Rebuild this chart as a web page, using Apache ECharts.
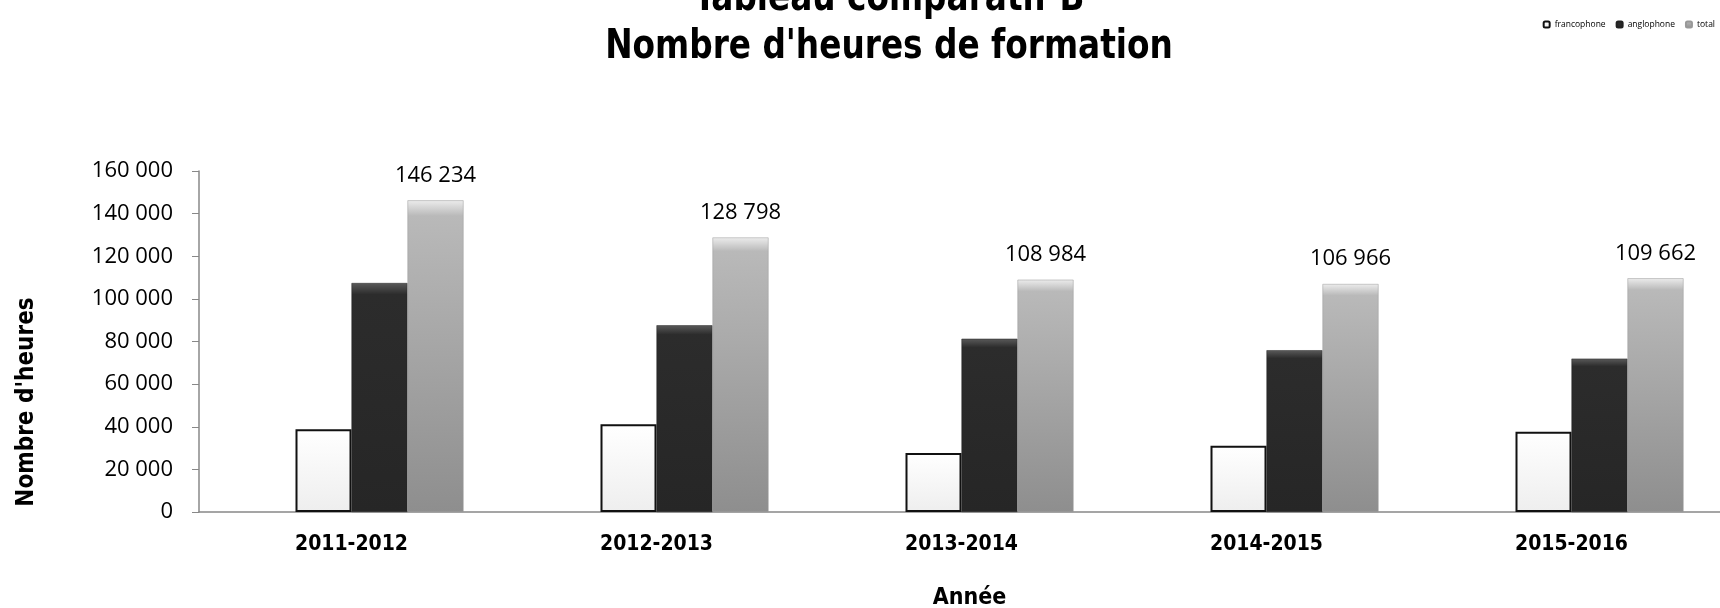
<!DOCTYPE html>
<html>
<head>
<meta charset="utf-8">
<script src="https://cdn.jsdelivr.net/npm/echarts@6/dist/echarts.min.js"></script>
<style>
  html, body { margin: 0; padding: 0; background: #fff; }
  #chart { width: 1720px; height: 608px; }
</style>
</head>
<body>
<div id="chart"></div>
<script>
  // données
  var annees = ['2011-2012', '2012-2013', '2013-2014', '2014-2015', '2015-2016'];
  var francophone = [38800, 41198, 27700, 31066, 37700];
  var anglophone = [107434, 87600, 81284, 75900, 71962];
  var total = [146234, 128798, 108984, 106966, 109662];
  var yTicks = [0, 20000, 40000, 60000, 80000, 100000, 120000, 140000, 160000];

  var titleFont = '"DejaVu Sans Condensed", "DejaVu Sans", sans-serif';
  var bodyFont = '"Open Sans", sans-serif';

  function fmt(v) {
    return String(v).replace(/\B(?=(\d{3})+(?!\d))/g, ' ');
  }

  var chart = echarts.init(document.getElementById('chart'));
  chart.setOption({
    animation: false,
    legend: {
      right: 0,
      top: 15,
      itemWidth: 6,
      itemHeight: 6,
      itemGap: 10,
      data: ['francophone', 'anglophone', 'total'],
      textStyle: { fontFamily: bodyFont, fontSize: 8.5, color: '#000' }
    },
    grid: { left: 199, top: 171, width: 1525, height: 341, outerBoundsMode: 'none' },
    xAxis: {
      type: 'category',
      data: annees,
      name: 'Année',
      nameLocation: 'middle',
      nameGap: 75,
      nameTextStyle: {
        fontFamily: titleFont, fontWeight: 'bold', fontSize: 23, color: '#000',
        padding: [0, 0, 0, 16]
      },
      axisLine: { lineStyle: { color: '#888', width: 1.5 } },
      axisTick: { length: 7, lineStyle: { color: '#888' } },
      axisLabel: {
        margin: 22,
        fontFamily: titleFont,
        fontWeight: 'bold',
        fontSize: 21,
        color: '#000'
      }
    },
    yAxis: {
      type: 'value',
      min: yTicks[0],
      max: yTicks[yTicks.length - 1],
      interval: yTicks[1] - yTicks[0],
      splitLine: { show: false },
      axisLine: { show: true, lineStyle: { color: '#888', width: 1.5 } },
      axisTick: { show: true, length: 7, lineStyle: { color: '#888' } },
      axisLabel: {
        margin: 26,
        fontFamily: bodyFont,
        fontSize: 22,
        color: '#000',
        formatter: fmt
      }
    },
    graphic: [{
        // titre sur deux lignes, la première coupée par le haut
        type: 'text',
        x: 889,
        y: 24,
        scaleX: 0.91,
        style: {
          text: 'Tableau comparatif B\nNombre d\'heures de formation',
          fontFamily: titleFont,
          fontWeight: 'bold',
          fontSize: 40,
          lineHeight: 48,
          align: 'center',
          verticalAlign: 'middle',
          fill: '#000'
        }
      },
      {
        type: 'text',
        x: 27,
        y: 402,
        rotation: Math.PI / 2,
        style: {
          text: 'Nombre d\'heures',
          fontFamily: titleFont,
          fontWeight: 'bold',
          fontSize: 24,
          align: 'center',
          verticalAlign: 'middle',
          fill: '#000'
        }
      }
    ],
    series: [{
        // série vide (emplacement réservé à gauche dans chaque groupe)
        name: '',
        type: 'bar',
        barWidth: 56,
        barGap: '0%',
        data: annees.map(function () { return '-'; })
      },
      {
        name: 'francophone',
        type: 'bar',
        barWidth: 56,
        barGap: '0%',
        data: francophone,
        itemStyle: {
          color: new echarts.graphic.LinearGradient(0, 0, 0, 1, [
            { offset: 0, color: '#ffffff' },
            { offset: 1, color: '#eeeeee' }
          ]),
          borderColor: '#111',
          borderWidth: 2
        }
      },
      {
        name: 'anglophone',
        type: 'bar',
        barWidth: 56,
        barGap: '0%',
        data: anglophone,
        itemStyle: {
          color: new echarts.graphic.LinearGradient(0, 0, 0, 1, [
            { offset: 0, color: '#5a5a5a' },
            { offset: 0.05, color: '#2c2c2c' },
            { offset: 1, color: '#262626' }
          ]),
          borderColor: '#222',
          borderWidth: 0.5
        }
      },
      {
        name: 'total',
        type: 'bar',
        barWidth: 56,
        barGap: '0%',
        data: total,
        itemStyle: {
          color: new echarts.graphic.LinearGradient(0, 0, 0, 1, [
            { offset: 0, color: '#ececec' },
            { offset: 0.05, color: '#b9b9b9' },
            { offset: 1, color: '#8e8e8e' }
          ]),
          borderColor: '#999',
          borderWidth: 0.5
        },
        label: {
          show: true,
          position: 'top',
          distance: 14,
          fontFamily: bodyFont,
          fontSize: 22,
          color: '#000',
          formatter: function (p) { return fmt(p.value); }
        }
      }
    ]
  });
</script>
</body>
</html>
